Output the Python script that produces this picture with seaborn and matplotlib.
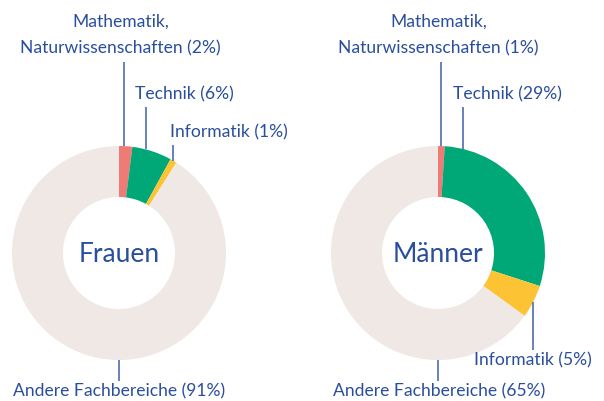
import numpy as np
import matplotlib.pyplot as plt
import seaborn as sns

# data
fields = ["Mathematik,\nNaturwissenschaften", "Technik", "Informatik", "Andere Fachbereiche"]
groups = ["Frauen", "Männer"]
frauen = [2, 6, 1, 91]
maenner = [1, 29, 5, 65]

colors = ["#F07A76", "#00A878", "#FCC434", "#EFE8E4"]
text_color = "#2A4E9E"
line_color = "#4F6CB0"

sns.set_theme(style="white")
plt.rcParams["font.family"] = ["Lato", "DejaVu Sans"]

fig = plt.figure(figsize=(6.04, 4.01), dpi=100)
ax = fig.add_axes([0, 0, 1, 1])

# layout (pixels, y down)
centers = [(119, 253), (438, 253)]
R, ring = 107, 51
# where along the ring (percent, clockwise from top) each leader line starts
anchors = [[0.8, 4.0, 8.5, 50], [0.5, 3.75, 32.5, 50]]
# label end y, text offset x, text alignment
label_y = [[62, 107, 145, 381], [62, 107, 350, 381]]
text_dx = [[-4, -11, -3, 0], [-3, -10, 0, 1]]
text_ha = [["center", "left", "left", "center"], ["center", "left", "center", "center"]]
fs = 12.6

for gi, (name, vals) in enumerate(zip(groups, [frauen, maenner])):
    cx, cy = centers[gi]
    # flipped y axis: startangle -90 is 12 o'clock, counterclock=True appears clockwise
    ax.pie(vals, colors=colors, center=(cx, cy), radius=R, startangle=-90,
           counterclock=True, wedgeprops=dict(width=ring, linewidth=0),
           frame=True)
    ax.text(cx, cy + 1, name, ha="center", va="center", fontsize=19, color=text_color)
    for i, (field, v) in enumerate(zip(fields, vals)):
        a = np.deg2rad(-90 + 3.6 * anchors[gi][i])
        x0 = cx + R * np.cos(a)
        y0 = cy + R * np.sin(a)
        y1 = label_y[gi][i]
        ax.plot([x0, x0], [y0, y1], color=line_color, lw=1.2, solid_capstyle="butt")
        label = f"{field} ({v}%)"
        if i == 0:
            ax.text(x0 + text_dx[gi][i], y1 - 6, label, ha="center", va="bottom",
                    fontsize=fs, color=text_color, linespacing=1.75)
        elif y1 > y0:
            ax.text(x0 + text_dx[gi][i], y1 + 10.5, label, ha=text_ha[gi][i], va="center",
                    fontsize=fs, color=text_color)
        else:
            ax.text(x0 + text_dx[gi][i], y1 - 13, label, ha=text_ha[gi][i], va="center",
                    fontsize=fs, color=text_color)

ax.set_xlim(0, 604)
ax.set_ylim(401, 0)
ax.set_aspect("auto")
ax.axis("off")
fig.savefig("out.png", dpi=100)
